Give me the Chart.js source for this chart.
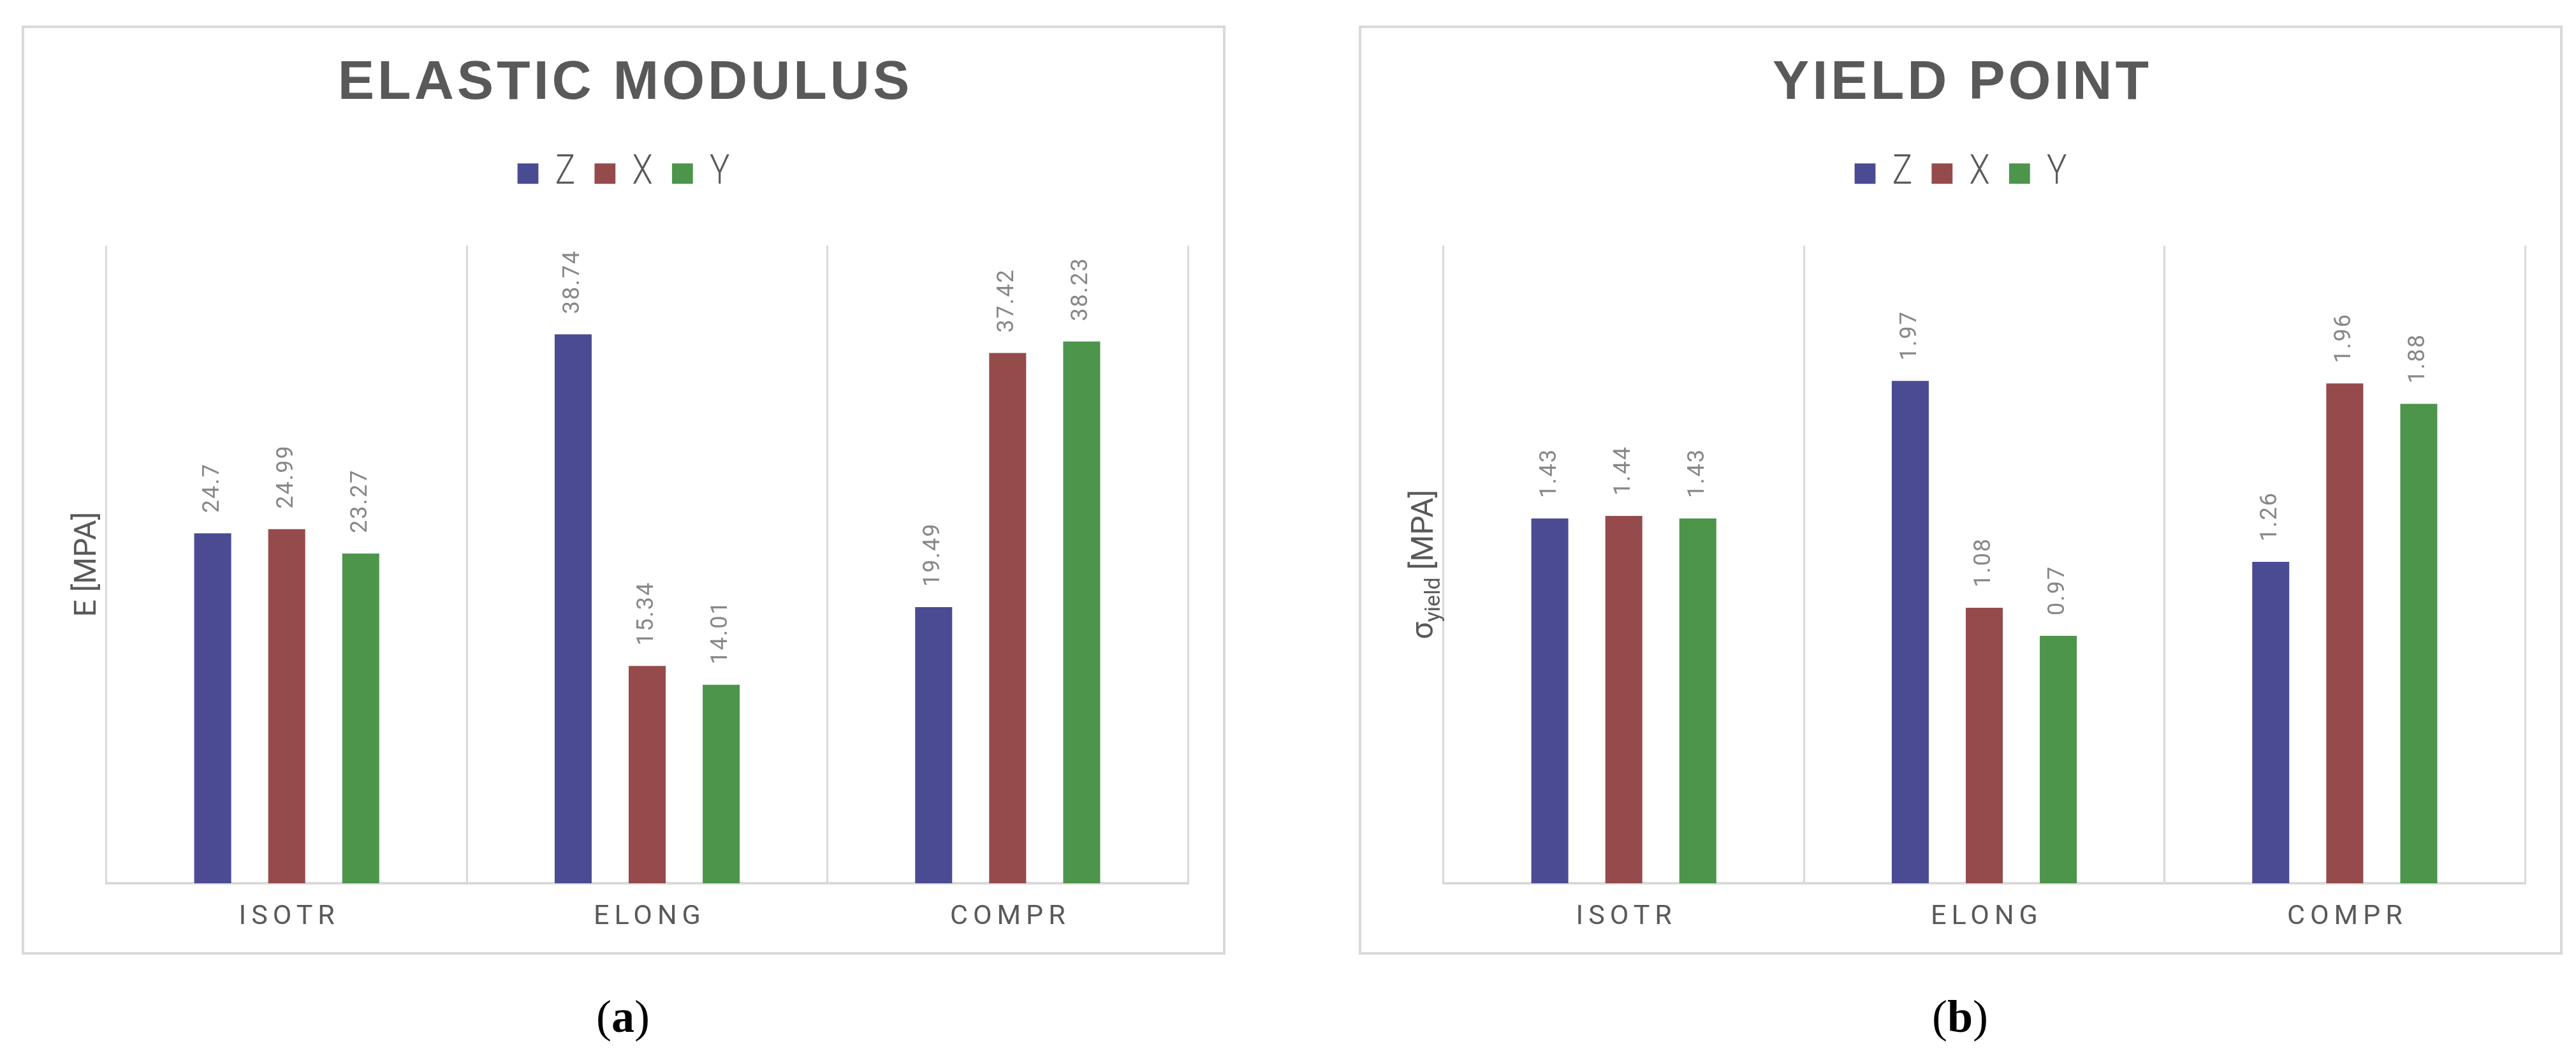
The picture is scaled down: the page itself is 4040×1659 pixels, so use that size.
<!DOCTYPE html>
<html>
<head>
<meta charset="utf-8">
<script src="https://cdn.jsdelivr.net/npm/chart.js@4.4.1/dist/chart.umd.min.js"></script>
<style>
  html, body { margin: 0; padding: 0; background: #ffffff; }
  body { width: 4040px; height: 1659px; position: relative; overflow: hidden; }
  .panel { position: absolute; top: 40px; width: 1888px; height: 1457px; box-sizing: border-box;
           border: 4px solid #d9d9d9; background: #fff; }
  .panel canvas { position: absolute; left: 0; top: 0; }
  .cap { position: absolute; top: 1552px; width: 400px; text-align: center;
         font-family: "Liberation Serif", "DejaVu Serif", serif; font-size: 72px; color: #000; line-height: 84px; }
</style>
</head>
<body>
<div class="panel" id="panelA" style="left:34px"><canvas id="chartA" width="1880" height="1449"></canvas></div>
<div class="panel" id="panelB" style="left:2131px"><canvas id="chartB" width="1880" height="1449"></canvas></div>
<div class="cap" style="left:777px">(<b>a</b>)</div>
<div class="cap" style="left:2874px">(<b>b</b>)</div>
<script>
// ---------------- data ----------------
const categories = ['ISOTR', 'ELONG', 'COMPR'];
const seriesNames = ['Z', 'X', 'Y'];
const seriesColors = ['#4b4b93', '#954b4c', '#4c954b'];

const elasticTitle = 'ELASTIC MODULUS';
const elasticZ = [24.7, 38.74, 19.49];
const elasticX = [24.99, 15.34, 37.42];
const elasticY = [23.27, 14.01, 38.23];
const elasticMin = 0;
const elasticMax = 45;

const yieldTitle = 'YIELD POINT';
const yieldZ = [1.43, 1.97, 1.26];
const yieldX = [1.44, 1.08, 1.96];
const yieldY = [1.43, 0.97, 1.88];
const yieldMin = 0;
const yieldMax = 2.5;

// axis title pieces: [text, isSubscript]
const elasticAxisTitle = [['E [MPA]', false]];
const yieldAxisTitle = [['σ', false], ['yield', true], [' [MPA]', false]];

// ---------------- helpers ----------------
const GRID = '#d9d9d9';
const TEXT = '#595959';

const valueLabels = {
  id: 'valueLabels',
  afterDatasetsDraw(chart) {
    const ctx = chart.ctx;
    chart.data.datasets.forEach((ds, i) => {
      const meta = chart.getDatasetMeta(i);
      meta.data.forEach((bar, j) => {
        ctx.save();
        ctx.font = '36px Roboto, "Liberation Sans", sans-serif';
        ctx.fillStyle = '#878787';
        ctx.letterSpacing = '2px';
        ctx.translate(bar.x, bar.y - 32);
        ctx.rotate(-Math.PI / 2);
        ctx.textAlign = 'left';
        ctx.textBaseline = 'middle';
        ctx.fillText(String(ds.data[j]), 0, 0);
        ctx.restore();
      });
    });
  }
};

const axisTitle = {
  id: 'axisTitle',
  afterDraw(chart, args, opts) {
    const ctx = chart.ctx;
    const parts = opts.parts || [];
    const mainFont = '48px Roboto, "Liberation Sans", sans-serif';
    const subFont = '34px Roboto, "Liberation Sans", sans-serif';
    ctx.save();
    let total = 0;
    const widths = parts.map(([t, sub]) => {
      ctx.font = sub ? subFont : mainFont;
      const w = ctx.measureText(t).width;
      total += w;
      return w;
    });
    const cy = (chart.chartArea.top + chart.chartArea.bottom) / 2;
    ctx.translate(opts.baselineX, cy);
    ctx.rotate(-Math.PI / 2);
    ctx.fillStyle = TEXT;
    ctx.textBaseline = 'alphabetic';
    ctx.textAlign = 'left';
    let x = -total / 2;
    parts.forEach(([t, sub], k) => {
      ctx.font = sub ? subFont : mainFont;
      ctx.fillText(t, x, sub ? 11 : 0);
      x += widths[k];
    });
    ctx.restore();
  }
};

// letter spacing for the title, horizontal condensing for the legend
const styling = {
  id: 'styling',
  beforeDraw(chart) {
    const tb = chart.titleBlock;
    if (tb && !tb._ls) {
      const orig = tb.draw;
      tb.draw = function () {
        const c = this.ctx;
        c.save();
        c.letterSpacing = '5px';
        c.translate(2.5, 0);
        orig.apply(this, arguments);
        c.restore();
      };
      tb._ls = true;
    }
    const lg = chart.legend;
    if (lg && !lg._cond) {
      const orig = lg.draw;
      lg.draw = function () {
        const c = this.ctx;
        const cx = (this.left + this.right) / 2;
        c.save();
        c.translate(cx, 0);
        c.scale(0.82, 1);
        c.translate(-cx, 0);
        orig.apply(this, arguments);
        c.restore();
      };
      lg._cond = true;
    }
  }
};

function makeChart(id, title, z, x, y, yMin, yMax, titleParts) {
  const values = [z, x, y];
  return new Chart(document.getElementById(id), {
    type: 'bar',
    data: {
      labels: categories,
      datasets: seriesNames.map((name, i) => ({
        label: name,
        data: values[i],
        backgroundColor: seriesColors[i],
        borderWidth: 0,
        categoryPercentage: 0.616,
        barPercentage: 0.5
      }))
    },
    options: {
      responsive: false,
      animation: false,
      events: [],
      layout: { padding: 0 },
      scales: {
        x: {
          grid: { display: true, color: GRID, lineWidth: 3, drawTicks: false, offset: true },
          border: { display: true, color: GRID, width: 4 },
          ticks: {
            color: TEXT,
            padding: 27,
            font: { family: 'Roboto, "Liberation Sans", sans-serif', size: 43 }
          },
          afterFit(scale) { scale.height = 108; },
          afterUpdate(scale) {
            if (!scale._ls) {
              const orig = scale.drawLabels;
              scale.drawLabels = function () {
                const c = this.ctx;
                c.save();
                c.letterSpacing = '8px';
                c.translate(4, 0);
                orig.apply(this, arguments);
                c.restore();
              };
              scale._ls = true;
            }
          }
        },
        y: {
          display: true,
          position: 'left',
          min: yMin,
          max: yMax,
          grid: { display: false },
          border: { display: false },
          ticks: { display: false },
          afterFit(scale) { scale.width = 129; }
        },
        yRight: {
          type: 'linear',
          display: true,
          position: 'right',
          min: yMin,
          max: yMax,
          grid: { display: false },
          border: { display: false },
          ticks: { display: false },
          afterFit(scale) { scale.width = 55; }
        }
      },
      plugins: {
        tooltip: { enabled: false },
        title: {
          display: true,
          text: title,
          color: TEXT,
          font: { family: '"Liberation Sans", Arial, sans-serif', size: 86, weight: 'bold', lineHeight: 1.2 },
          padding: { top: 36, bottom: 20 }
        },
        legend: {
          display: true,
          position: 'top',
          labels: {
            color: TEXT,
            boxWidth: 40,
            boxHeight: 32,
            padding: 37,
            font: { family: 'Roboto, "Liberation Sans", sans-serif', size: 64, weight: 300 }
          }
        },
        subtitle: {
          display: true,
          text: ' ',
          weight: 500,
          font: { size: 10, lineHeight: 1.2 },
          padding: { top: 0, bottom: 59 }
        },
        axisTitle: { parts: titleParts, baselineX: 112 }
      }
    },
    plugins: [valueLabels, axisTitle, styling]
  });
}

function init() {
  makeChart('chartA', elasticTitle, elasticZ, elasticX, elasticY, elasticMin, elasticMax, elasticAxisTitle);
  makeChart('chartB', yieldTitle, yieldZ, yieldX, yieldY, yieldMin, yieldMax, yieldAxisTitle);
}
if (document.fonts && document.fonts.load) {
  Promise.all([
    document.fonts.load('36px Roboto'),
    document.fonts.load('300 64px Roboto'),
    document.fonts.load('bold 86px "Liberation Sans"')
  ]).then(init, init);
} else {
  init();
}
</script>
</body>
</html>
